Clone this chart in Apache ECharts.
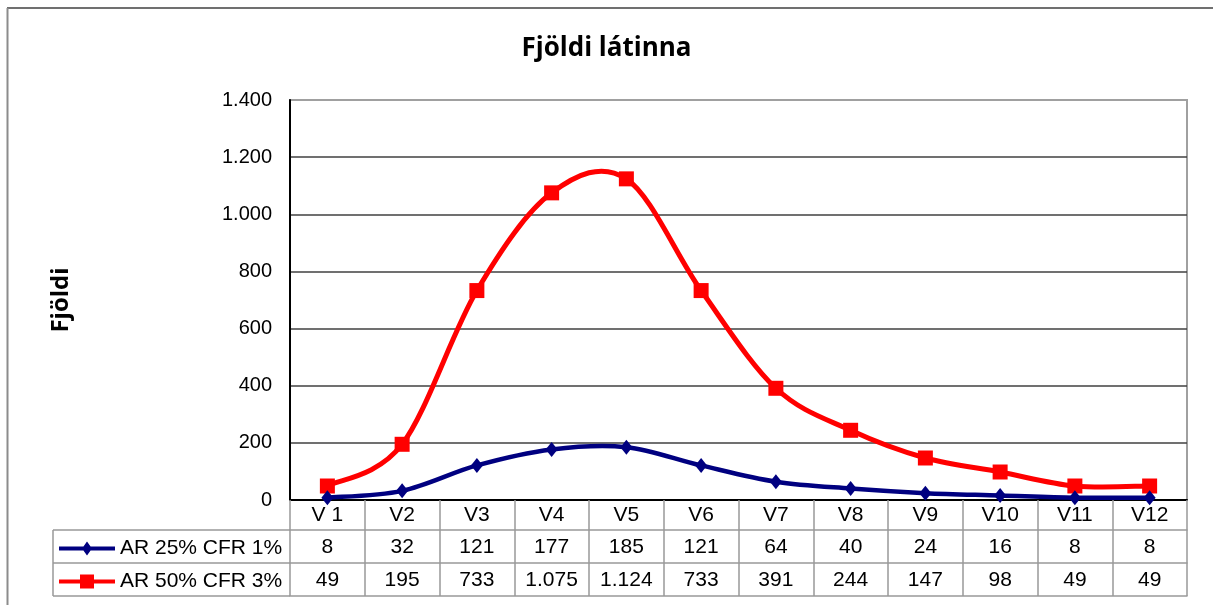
<!DOCTYPE html>
<html>
<head>
<meta charset="utf-8">
<title>Fjöldi látinna</title>
<script src="https://cdn.jsdelivr.net/npm/echarts@6/dist/echarts.min.js"></script>
<style>
  html, body { margin: 0; padding: 0; background: #fff; }
  #chart { width: 1213px; height: 605px; }
</style>
</head>
<body>
<div id="chart"></div>
<script>
const weeks = ['V 1', 'V2', 'V3', 'V4', 'V5', 'V6', 'V7', 'V8', 'V9', 'V10', 'V11', 'V12'];
const ar25 = [8, 32, 121, 177, 185, 121, 64, 40, 24, 16, 8, 8];
const ar50 = [49, 195, 733, 1075, 1124, 733, 391, 244, 147, 98, 49, 49];
const seriesNames = ['AR 25% CFR 1%', 'AR 50% CFR 3%'];
const yMin = 0, yMax = 1400, yStep = 200;

// 1.075 style thousands separator
function fmt (v) {
    return String(v).replace(/\B(?=(\d{3})+(?!\d))/g, '.');
}

const font = 'Liberation Sans, Arial, sans-serif';
const cellBorder = '#999';
const blue = '#000080';
const red = '#ff0000';

// legend icons: thick line with the marker in the middle (56 x 14 box)
const blueIcon = 'path://M0,5L56,5L56,9L0,9Z M28,0L33,7L28,14L23,7Z';
const redIcon = 'path://M0,5L56,5L56,9L0,9Z M21,0L35,0L35,14L21,14Z';

let myChart = echarts.init(document.getElementById('chart'));

// Excel style smoothed line: one bezier piece per segment, control points
// from the neighbouring points (in pixel space, via the chart's own axes)
function smoothCurve (values, color, width) {
    return {
        type: 'custom',
        silent: true,
        z: 1,
        data: values.map((v, i) => [i, v]),
        renderItem: function (params, api) {
            let i = params.dataIndex;
            let n = values.length;
            if (i >= n - 1) return null;
            let pt = j => api.coord([Math.max(0, Math.min(n - 1, j)), values[Math.max(0, Math.min(n - 1, j))]]);
            let p0 = pt(i - 1), p1 = pt(i), p2 = pt(i + 1), p3 = pt(i + 2);
            return {
                type: 'bezierCurve',
                shape: {
                    x1: p1[0], y1: p1[1],
                    cpx1: p1[0] + (p2[0] - p0[0]) / 6, cpy1: p1[1] + (p2[1] - p0[1]) / 6,
                    cpx2: p2[0] - (p3[0] - p1[0]) / 6, cpy2: p2[1] - (p3[1] - p1[1]) / 6,
                    x2: p2[0], y2: p2[1]
                },
                style: { stroke: color, lineWidth: width, fill: null, lineCap: 'round' }
            };
        }
    };
}

// table rows under the plot are extra category axes
function tableAxis (data, offset, tickLen, margin) {
    return {
        type: 'category',
        position: 'bottom',
        offset: offset,
        data: data,
        boundaryGap: true,
        axisLine: { show: true, lineStyle: { color: cellBorder, width: 1.5 } },
        axisTick: { show: tickLen > 0, length: tickLen, interval: 0, lineStyle: { color: cellBorder, width: 1.5 } },
        axisLabel: { show: data.length > 0, interval: 0, margin: margin, color: '#000', fontSize: 21, fontFamily: font },
        splitLine: { show: false }
    };
}

const gridLineColors = [];
for (let v = yMin; v <= yMax; v += yStep) {
    gridLineColors.push(v === yMax ? '#a0a0a0' : '#404040');
}

myChart.setOption({
    backgroundColor: '#fff',
    animation: false,
    title: {
        text: 'Fjöldi látinna',
        left: 'center',
        top: 31,
        textStyle: { fontSize: 26, fontWeight: 'bold', fontFamily: 'Open Sans, sans-serif', color: '#000' }
    },
    grid: {
        left: 290, right: 26, top: 100, bottom: 105,
        show: true, borderColor: '#a0a0a0', borderWidth: 2
    },
    legend: {
        orient: 'vertical',
        left: 59,
        top: 538,
        padding: 0,
        itemWidth: 56,
        itemHeight: 14,
        itemGap: 12,
        textStyle: { fontSize: 21, fontFamily: font, color: '#000' },
        data: [
            { name: seriesNames[0], icon: blueIcon, itemStyle: { color: blue } },
            { name: seriesNames[1], icon: redIcon, itemStyle: { color: red } }
        ]
    },
    xAxis: [
        {
            type: 'category',
            data: weeks,
            boundaryGap: true,
            axisLine: { show: true, lineStyle: { color: '#000', width: 2 } },
            axisTick: { show: true, length: 30, interval: 0, lineStyle: { color: cellBorder, width: 1.5 } },
            axisLabel: { interval: 0, margin: 5, color: '#000', fontSize: 21, fontFamily: font },
            splitLine: { show: false }
        },
        tableAxis(ar25.map(fmt), 30, 33, 7),
        tableAxis(ar50.map(fmt), 63, 33, 7),
        tableAxis([], 96, 0, 0)
    ],
    yAxis: {
        type: 'value',
        min: yMin,
        max: yMax,
        interval: yStep,
        name: 'Fjöldi',
        nameLocation: 'middle',
        nameRotate: 90,
        nameGap: 217,
        nameTextStyle: { fontSize: 24, fontWeight: 'bold', fontFamily: 'Open Sans, sans-serif', color: '#000' },
        axisLine: { show: true, lineStyle: { color: '#000', width: 2 } },
        axisTick: { show: false },
        axisLabel: { margin: 18, color: '#000', fontSize: 20, fontFamily: font, formatter: fmt },
        splitLine: { show: true, lineStyle: { color: gridLineColors, width: 1.5 } }
    },
    series: [
        smoothCurve(ar25, blue, 4.5),
        smoothCurve(ar50, red, 5),
        {
            name: seriesNames[0],
            type: 'line',
            data: ar25,
            symbol: 'diamond',
            symbolSize: [12, 15],
            lineStyle: { width: 0, opacity: 0 },
            itemStyle: { color: blue },
            z: 3
        },
        {
            name: seriesNames[1],
            type: 'line',
            data: ar50,
            symbol: 'rect',
            symbolSize: 15,
            lineStyle: { width: 0, opacity: 0 },
            itemStyle: { color: red },
            z: 2
        }
    ],
    graphic: [
        // outer chart frame
        { type: 'line', shape: { x1: 7, y1: 8, x2: 1213, y2: 8 }, style: { stroke: '#404040', lineWidth: 1.5 } },
        { type: 'line', shape: { x1: 7.5, y1: 8, x2: 7.5, y2: 605 }, style: { stroke: '#8c8c8c', lineWidth: 2 } },
        // legend column of the data table
        { type: 'line', shape: { x1: 53, y1: 530, x2: 290, y2: 530 }, style: { stroke: cellBorder, lineWidth: 1.5 } },
        { type: 'line', shape: { x1: 53, y1: 563, x2: 290, y2: 563 }, style: { stroke: cellBorder, lineWidth: 1.5 } },
        { type: 'line', shape: { x1: 53, y1: 596, x2: 290, y2: 596 }, style: { stroke: cellBorder, lineWidth: 1.5 } },
        { type: 'line', shape: { x1: 53, y1: 530, x2: 53, y2: 596 }, style: { stroke: cellBorder, lineWidth: 1.5 } }
    ]
});
</script>
</body>
</html>
